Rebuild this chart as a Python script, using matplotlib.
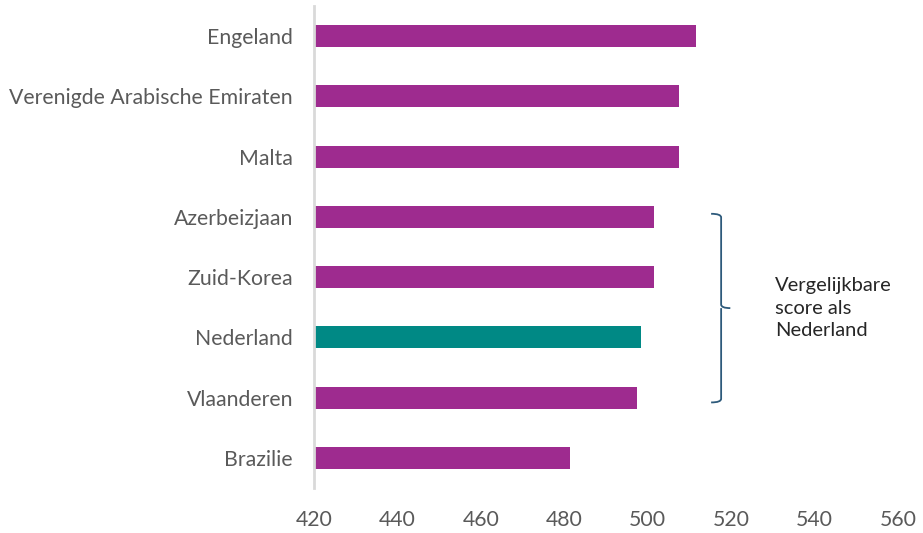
import matplotlib.pyplot as plt
from matplotlib.path import Path
from matplotlib.patches import PathPatch

# scores per land
landen = ['Engeland', 'Verenigde Arabische Emiraten', 'Malta', 'Azerbeizjaan',
          'Zuid-Korea', 'Nederland', 'Vlaanderen', 'Brazilie']
scores = [511.5, 507.5, 507.5, 501.5, 501.5, 498.5, 497.5, 481.5]
xticks = [420, 440, 460, 480, 500, 520, 540, 560]

paars = '#9e2b8f'
groen = '#008985'
plt.rcParams['font.family'] = ['Lato', 'DejaVu Sans']

fig = plt.figure(figsize=(9.23, 5.33), dpi=100)
ax = fig.add_axes([0.340, 0.0844, 0.633, 0.9046])

kleuren = [groen if l == 'Nederland' else paars for l in landen]
ax.barh(range(len(landen)), [s - 420 for s in scores], left=420,
        height=0.365, color=kleuren)

ax.set_xlim(420, 560)
ax.set_ylim(len(landen) - 0.5, -0.5)
ax.set_yticks(range(len(landen)))
ax.set_yticklabels(landen, fontsize=15.3, color='#5a5a5a')
ax.set_xticks(xticks)
ax.set_xticklabels([str(t) for t in xticks], fontsize=15.3, color='#5a5a5a')
ax.tick_params(axis='both', length=0)
ax.tick_params(axis='x', pad=16)
ax.tick_params(axis='y', pad=15)

for s in ['top', 'right', 'bottom']:
    ax.spines[s].set_visible(False)
ax.spines['left'].set_color('#d9d9d9')
ax.spines['left'].set_linewidth(2)

# accolade rond de vergelijkbare landen
y0, y1 = 2.95, 6.08
ym = (y0 + y1) / 2
verts = [(515.2, y0), (517.6, y0), (517.6, y0 + 0.06),
         (517.6, ym - 0.06),
         (517.6, ym), (519.8, ym),
         (517.6, ym), (517.6, ym + 0.06),
         (517.6, y1 - 0.06),
         (517.6, y1), (515.2, y1)]
codes = [Path.MOVETO, Path.CURVE3, Path.CURVE3,
         Path.LINETO,
         Path.CURVE3, Path.CURVE3,
         Path.MOVETO, Path.LINETO,
         Path.LINETO,
         Path.CURVE3, Path.CURVE3]
ax.add_patch(PathPatch(Path(verts, codes), fill=False, edgecolor='#2d5a7b',
                       linewidth=1.3, clip_on=False))

ax.text(530.5, ym, 'Vergelijkbare\nscore als\nNederland', fontsize=14.5,
        color='#262626', va='center', ha='left', linespacing=1.4)

fig.savefig('out.png', dpi=100)
